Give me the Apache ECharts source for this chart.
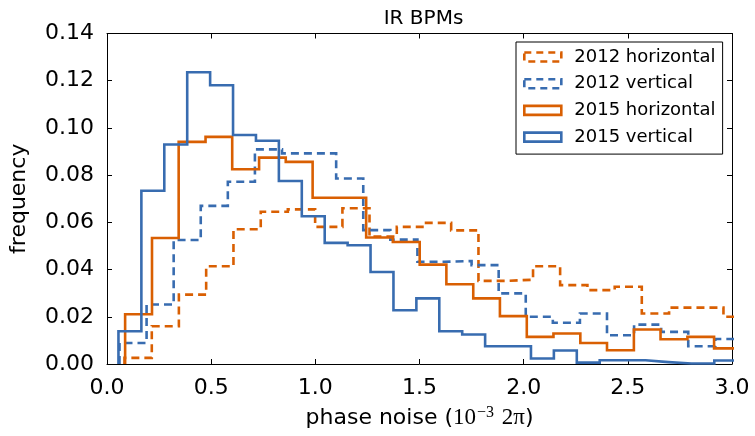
<!DOCTYPE html>
<html>
<head>
<meta charset="utf-8">
<script src="https://cdn.jsdelivr.net/npm/echarts@6/dist/echarts.min.js"></script>
<style>
  html, body { margin: 0; padding: 0; background: #fff; }
  #chart { width: 755px; height: 436px; }
</style>
</head>
<body>
<div id="chart"></div>
<script>
// ---- data ----
const seriesNames = ['2012 horizontal', '2012 vertical', '2015 horizontal', '2015 vertical'];

const edges2012H = [0.084, 0.215, 0.345, 0.476, 0.607, 0.738, 0.868, 0.999, 1.130, 1.260, 1.391, 1.522,
                    1.652, 1.783, 1.914, 2.045, 2.175, 2.306, 2.437, 2.567, 2.698, 2.829, 2.959, 3.090];
const freq2012H  = [0.0026, 0.0160, 0.0294, 0.0414, 0.0571, 0.0645, 0.0655, 0.0581, 0.0660, 0.0540, 0.0581,
                    0.0598, 0.0566, 0.0352, 0.0357, 0.0414, 0.0334, 0.0313, 0.0327, 0.0214, 0.0239, 0.0239, 0.0200];

const edges2012V = [0.060, 0.190, 0.320, 0.450, 0.580, 0.710, 0.840, 0.970, 1.100, 1.230, 1.360, 1.490,
                    1.620, 1.750, 1.880, 2.010, 2.140, 2.270, 2.400, 2.530, 2.660, 2.790, 2.920, 3.050];
const freq2012V  = [0.0089, 0.0252, 0.0525, 0.0670, 0.0772, 0.0909, 0.0892, 0.0892, 0.0786, 0.0567, 0.0527,
                    0.0433, 0.0436, 0.0419, 0.0299, 0.0200, 0.0175, 0.0214, 0.0122, 0.0167, 0.0136, 0.0075, 0.0106];

const edges2015H = [0.087, 0.216, 0.344, 0.473, 0.601, 0.730, 0.858, 0.987, 1.115, 1.244, 1.372, 1.501,
                    1.629, 1.758, 1.886, 2.015, 2.143, 2.272, 2.400, 2.529, 2.657, 2.786, 2.914, 3.043];
const freq2015H  = [0.0211, 0.0534, 0.0941, 0.0962, 0.0825, 0.0874, 0.0856, 0.0704, 0.0704, 0.0536, 0.0517,
                    0.0421, 0.0338, 0.0278, 0.0203, 0.0115, 0.0129, 0.0089, 0.0058, 0.0146, 0.0105, 0.0115, 0.0066];

const edges2015V = [0.055, 0.165, 0.275, 0.385, 0.495, 0.605, 0.715, 0.825, 0.935, 1.045, 1.155, 1.265, 1.375, 1.485,
                    1.595, 1.705, 1.815, 1.925, 2.035, 2.145, 2.255, 2.365, 2.475, 2.585, 2.695, 2.805, 2.915, 3.025];
const freq2015V  = [0.0139, 0.0734, 0.0930, 0.1236, 0.1181, 0.0970, 0.0946, 0.0775, 0.0626, 0.0513, 0.0503, 0.0390,
                    0.0228, 0.0278, 0.0139, 0.0125, 0.0075, 0.0075, 0.0023, 0.0057, 0.0006, 0.0016, 0.0016,
                    0.0008, 0.0002, 0.0002, 0.0015];

const xTicks = [0.0, 0.5, 1.0, 1.5, 2.0, 2.5, 3.0];
const yTicks = [0.00, 0.02, 0.04, 0.06, 0.08, 0.10, 0.12, 0.14];

// ---- styling ----
const ORANGE = '#d95f02';
const BLUE = '#386cb0';
const SANS = 'DejaVu Sans';
const SERIF = 'Liberation Serif';

function stepPath(edges, heights) {
  const pts = [[edges[0], 0]];
  for (let i = 0; i < heights.length; i++) {
    pts.push([edges[i], heights[i]]);
    pts.push([edges[i + 1], heights[i]]);
  }
  pts.push([edges[heights.length], 0]);
  return pts;
}

const histData = [
  { name: seriesNames[0], edges: edges2012H, freq: freq2012H, color: ORANGE, dashed: true },
  { name: seriesNames[1], edges: edges2012V, freq: freq2012V, color: BLUE, dashed: true },
  { name: seriesNames[2], edges: edges2015H, freq: freq2015H, color: ORANGE, dashed: false },
  { name: seriesNames[3], edges: edges2015V, freq: freq2015V, color: BLUE, dashed: false }
];

const DASH = [8, 5];

const series = histData.map((h, i) => ({
  name: h.name,
  type: 'line',
  data: stepPath(h.edges, h.freq),
  symbol: 'none',
  showSymbol: false,
  clip: true,
  z: 2 + i,
  lineStyle: { color: h.color, width: 2.6, type: h.dashed ? DASH : 'solid', cap: 'butt', join: 'miter' },
  itemStyle: { color: h.color },
  emphasis: { disabled: true },
  silent: true,
  animation: false
}));

const axisLine = { show: true, onZero: false, lineStyle: { color: '#000', width: 1 } };
const axisTick = { show: true, inside: true, length: 5, lineStyle: { color: '#000', width: 1 } };

const chart = echarts.init(document.getElementById('chart'), null, { renderer: 'canvas' });
chart.setOption({
  backgroundColor: '#fff',
  animation: false,
  title: {
    text: 'IR BPMs',
    left: 418.5,
    top: 4,
    textAlign: 'center',
    textStyle: { fontFamily: SANS, fontSize: 20, fontWeight: 'normal', color: '#000' }
  },
  grid: { left: 105, right: 23, top: 33.5, bottom: 72, containLabel: false },
  legend: {
    left: 516,
    top: 42,
    orient: 'vertical',
    selectedMode: false,
    backgroundColor: '#fff',
    borderColor: '#000',
    borderWidth: 1,
    borderRadius: 0,
    padding: [5, 7, 7, 7],
    itemWidth: 37,
    itemHeight: 9,
    itemGap: 6.7,
    icon: 'rect',
    textStyle: {
      fontFamily: SANS, fontSize: 18, color: '#000', lineHeight: 20,
      rich: { t: { fontFamily: SANS, fontSize: 18, color: '#000', lineHeight: 20, padding: [0, 0, 0, 8] } }
    },
    formatter: (name) => '{t|' + name + '}',
    data: histData.map(h => ({
      name: h.name,
      icon: 'rect',
      itemStyle: {
        color: 'rgba(0,0,0,0)',
        borderColor: h.color,
        borderWidth: 2.6,
        borderType: h.dashed ? [7, 5] : 'solid'
      }
    }))
  },
  xAxis: [
    {
      type: 'value', min: xTicks[0], max: xTicks[xTicks.length - 1], interval: 0.5,
      position: 'bottom',
      axisLine, axisTick,
      splitLine: { show: false },
      axisLabel: {
        margin: 13, fontFamily: SANS, fontSize: 22, color: '#000',
        formatter: (v) => v.toFixed(1)
      },
      name: '{s|phase noise (}{m|10}{sup|−3}{m| 2π}{s|)}',
      nameLocation: 'middle',
      nameGap: 41,
      nameTextStyle: {
        rich: {
          s: { fontFamily: SANS, fontSize: 22, color: '#000', lineHeight: 26 },
          m: { fontFamily: SERIF, fontSize: 23, color: '#000', lineHeight: 26 },
          sup: { fontFamily: SERIF, fontSize: 16, color: '#000', lineHeight: 26, verticalAlign: 'top', padding: [0, 2, 10, 1] }
        }
      }
    },
    {
      type: 'value', min: xTicks[0], max: xTicks[xTicks.length - 1], interval: 0.5,
      position: 'top',
      axisLine, axisTick,
      splitLine: { show: false },
      axisLabel: { show: false }
    }
  ],
  yAxis: [
    {
      type: 'value', min: yTicks[0], max: yTicks[yTicks.length - 1], interval: 0.02,
      position: 'left',
      axisLine, axisTick,
      splitLine: { show: false },
      axisLabel: {
        margin: 13, fontFamily: SANS, fontSize: 22, color: '#000',
        formatter: (v) => v.toFixed(2)
      },
      name: 'frequency',
      nameLocation: 'middle',
      nameGap: 77,
      nameTextStyle: { fontFamily: SANS, fontSize: 22, color: '#000' }
    },
    {
      type: 'value', min: yTicks[0], max: yTicks[yTicks.length - 1], interval: 0.02,
      position: 'right',
      axisLine, axisTick,
      splitLine: { show: false },
      axisLabel: { show: false }
    }
  ],
  series
});
</script>
</body>
</html>
